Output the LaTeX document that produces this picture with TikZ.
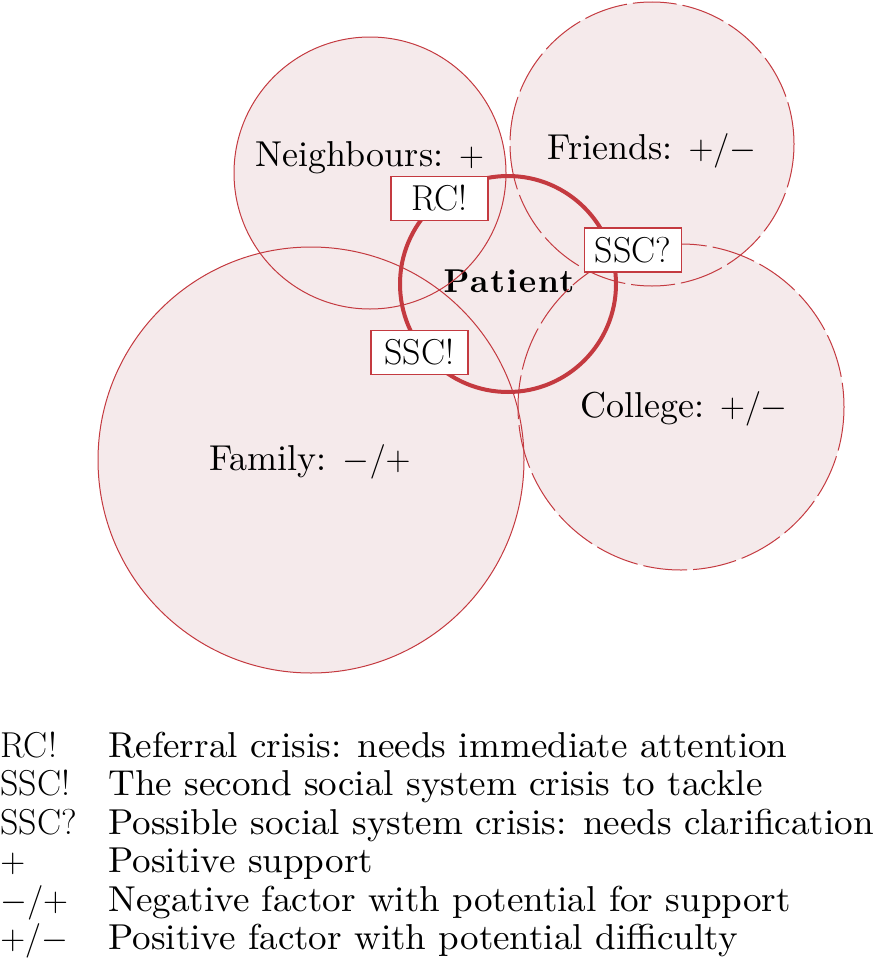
\documentclass[tikz,border=0pt]{standalone}
\usepackage{fontspec}
\usetikzlibrary{positioning}
\newfontfamily\widefont{lmroman10-regular}[Extension=.otf]
\newfontfamily\legendfont{lmroman10-regular}[Extension=.otf, FakeStretch=1.03]
\newfontfamily\patientfont{lmroman10-bold}[Extension=.otf, LetterSpace=5]
\definecolor{sysred}{RGB}{196,58,64}
\definecolor{sysfill}{RGB}{245,234,235}
\newcommand{\sysfont}{\fontsize{18}{22}\selectfont}

\begin{document}
\begin{tikzpicture}[x=0.5pt, y=-0.5pt,
  sys/.style={draw=sysred, line width=0.5pt},
  loose/.style={sys, dash pattern=on 22pt off 3pt},
  crisis/.style={draw=sysred, line width=0.6pt, fill=white, inner sep=0pt,
    minimum width=48.5pt, minimum height=22pt, font=\sysfont},
  lbl/.style={anchor=base, inner sep=0pt, font=\widefont\sysfont},
  key/.style={anchor=base west, inner sep=0pt, font=\sysfont},
  desc/.style={key, font=\legendfont\sysfont}]
  \useasboundingbox (0,0) rectangle (875,958);
  % centres of the systems
  \coordinate (nb) at (370,173);
  \coordinate (fr) at (652,144);
  \coordinate (co) at (681,407);
  \coordinate (fa) at (311,460);
  \coordinate (pa) at (508,284);
  \fill[sysfill] (nb) circle[radius=136] (fr) circle[radius=142]
    (co) circle[radius=163] (fa) circle[radius=213] (pa) circle[radius=108];
  \node[lbl] (nbl) at (370,166) {Neighbours: $+$};
  \node[lbl] (frl) at (652,159) {Friends: $+/-$};
  \node[lbl] (col) at (684,417) {College: $+/-$};
  \node[lbl] (fal) at (310,470) {Family: $-/+$};
  \node[lbl, font=\patientfont\fontsize{16.5}{20}\selectfont]
    (pal) at (509,292) {Patient};
  \draw[sys] (nb) circle[radius=136];
  \draw[sys] (fa) circle[radius=213];
  \draw[loose] (fr) circle[radius=142];
  \draw[loose] (co) circle[radius=163];
  \draw[draw=sysred, line width=2pt] (pa) circle[radius=108];
  % crises
  \node[crisis] (rc) at (439.5,198.5) {RC!};
  \node[crisis] (sscq) at (633,250) {SSC?};
  \node[crisis] (ssce) at (419.5,352.5) {SSC!};
  % legend
  \foreach \k/\t [count=\i] in {RC!/Referral crisis: needs immediate attention,
      SSC!/The second social system crisis to tackle,
      SSC?/Possible social system crisis: needs clarification,
      {$+$}/Positive support,
      {$-/+$}/Negative factor with potential for support,
      {$+/-$}/Positive factor with potential difficulty} {
    \node[key] (key\i) at (0,{757+38.5*(\i-1)}) {\k};
    \node[desc] (desc\i) at (108,{757+38.5*(\i-1)}) {\t};
  }
\end{tikzpicture}
\end{document}
